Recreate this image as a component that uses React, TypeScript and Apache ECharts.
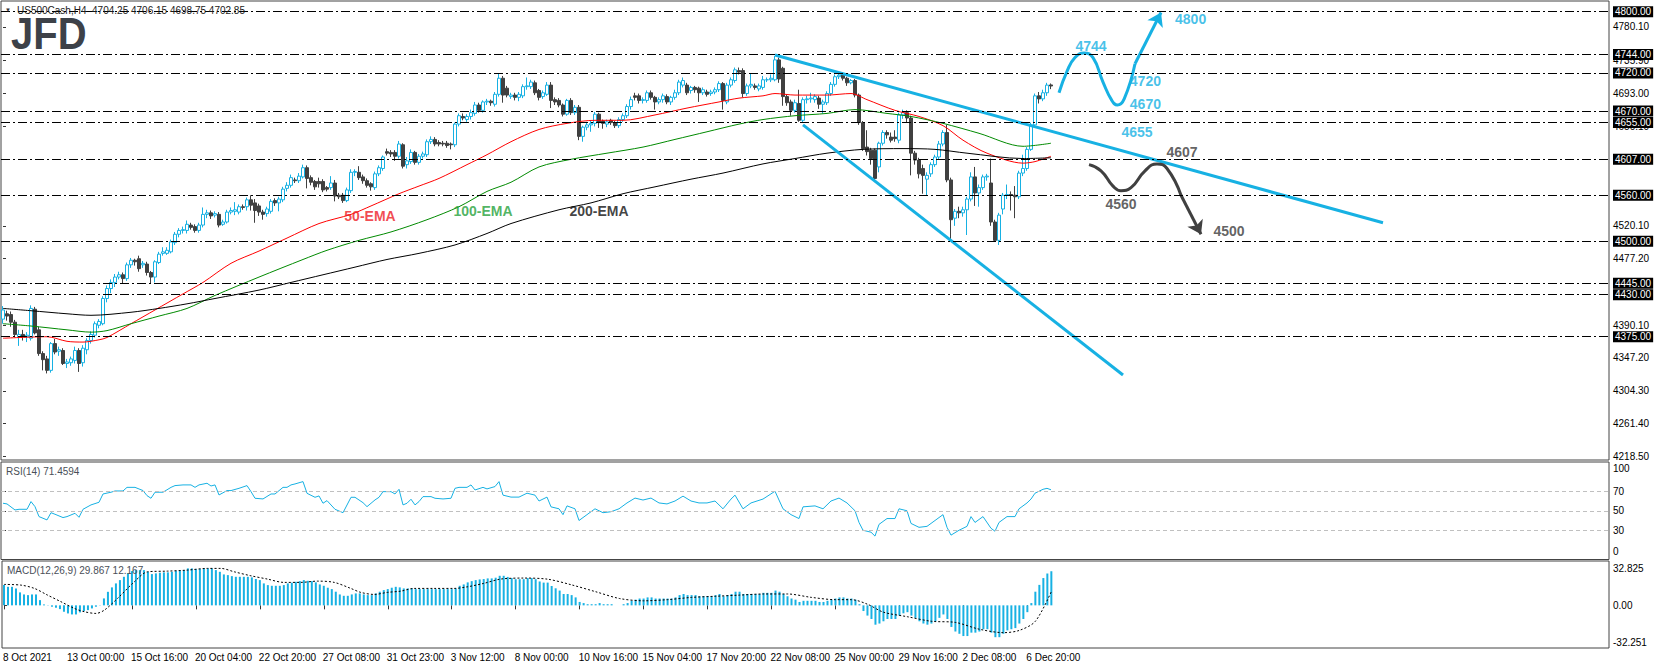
import React, { useEffect, useRef } from "react";
import * as echarts from "echarts";

// ---------- data ----------
const SLOTS = 402; // bar slots across the chart (incl. empty future space)
const TICK_STEP = 16;
const xTickLabels = [
  "8 Oct 2021", "13 Oct 00:00", "15 Oct 16:00", "20 Oct 04:00", "22 Oct 20:00",
  "27 Oct 08:00", "31 Oct 23:00", "3 Nov 12:00", "8 Nov 00:00", "10 Nov 16:00",
  "15 Nov 04:00", "17 Nov 20:00", "22 Nov 08:00", "25 Nov 00:00", "29 Nov 16:00",
  "2 Dec 08:00", "6 Dec 20:00",
];

// [open, close, low, high]
const candles: number[][] = [
  [4398,4410,4392,4415],[4405,4402,4396,4409],[4404,4394,4388,4408],[4394,4378,4376,4397],[4375,4378,4363,4384],
  [4378,4375,4370,4384],[4375,4377,4368,4381],[4373,4412,4370,4416],[4411,4380,4378,4414],[4384,4353,4350,4388],
  [4353,4345,4331,4356],[4346,4331,4327,4350],[4331,4366,4328,4368],[4366,4355,4352,4372],[4356,4358,4350,4362],
  [4357,4340,4338,4360],[4340,4342,4334,4346],[4341,4346,4337,4349],[4344,4357,4340,4362],[4357,4340,4329,4360],
  [4341,4360,4336,4364],[4358,4370,4352,4373],[4370,4378,4366,4382],[4377,4392,4374,4395],[4390,4395,4386,4398],
  [4392,4425,4390,4428],[4425,4438,4420,4442],[4438,4446,4432,4450],[4446,4453,4440,4457],[4453,4456,4450,4460],
  [4456,4451,4445,4459],[4451,4469,4448,4472],[4469,4475,4465,4478],[4475,4473,4468,4477],[4477,4464,4460,4481],
  [4469,4471,4465,4474],[4470,4459,4455,4473],[4459,4453,4445,4461],[4453,4473,4446,4475],[4472,4483,4470,4486],
  [4484,4486,4481,4492],[4484,4488,4482,4492],[4486,4499,4484,4502],[4498,4509,4495,4512],[4509,4514,4505,4517],
  [4514,4515,4510,4519],[4514,4522,4510,4527],[4521,4518,4515,4524],[4519,4514,4511,4522],[4514,4521,4511,4524],
  [4521,4535,4518,4544],[4535,4537,4530,4541],[4537,4533,4529,4540],[4534,4536,4531,4539],[4535,4521,4518,4538],
  [4522,4525,4520,4528],[4525,4538,4523,4541],[4538,4540,4535,4544],[4539,4541,4534,4551],[4538,4545,4535,4548],
  [4545,4544,4541,4548],[4545,4554,4540,4557],[4554,4547,4540,4560],[4550,4540,4524,4555],[4546,4538,4533,4549],
  [4538,4535,4528,4541],[4536,4542,4532,4545],[4539,4552,4536,4555],[4553,4550,4546,4556],[4550,4555,4539,4558],
  [4554,4568,4551,4571],[4569,4573,4565,4577],[4573,4583,4570,4587],[4580,4579,4576,4583],[4579,4585,4576,4589],
  [4584,4596,4582,4600],[4596,4582,4569,4599],[4583,4577,4573,4586],[4578,4571,4567,4580],[4578,4575,4570,4583],
  [4578,4567,4564,4581],[4570,4568,4565,4572],[4570,4576,4567,4585],[4576,4559,4552,4580],[4560,4558,4555,4563],
  [4560,4553,4550,4563],[4553,4567,4551,4570],[4566,4590,4563,4594],[4590,4591,4585,4594],[4590,4583,4580,4598],
  [4584,4579,4575,4587],[4579,4573,4570,4582],[4575,4571,4566,4577],[4570,4588,4567,4591],[4588,4596,4585,4599],
  [4595,4610,4592,4612],[4617,4615,4612,4621],[4616,4614,4610,4619],[4616,4611,4605,4619],[4611,4627,4608,4631],
  [4626,4598,4595,4628],[4600,4605,4595,4610],[4604,4616,4601,4620],[4616,4603,4600,4618],[4603,4611,4600,4614],
  [4611,4614,4608,4617],[4613,4630,4610,4633],[4630,4633,4627,4637],[4633,4627,4624,4636],[4629,4627,4624,4632],
  [4628,4627,4624,4631],[4628,4625,4622,4631],[4627,4626,4620,4629],[4626,4653,4623,4655],[4653,4664,4650,4667],
  [4663,4661,4658,4667],[4659,4663,4656,4666],[4663,4668,4659,4672],[4667,4678,4664,4682],[4678,4671,4668,4681],
  [4671,4682,4668,4684],[4682,4683,4678,4686],[4683,4681,4677,4685],[4679,4692,4676,4695],[4692,4713,4689,4719],
  [4713,4691,4681,4716],[4700,4691,4688,4703],[4689,4691,4686,4694],[4691,4688,4684,4694],[4688,4692,4683,4695],
  [4690,4702,4687,4705],[4702,4703,4698,4714],[4702,4708,4699,4711],[4707,4694,4691,4710],[4697,4688,4684,4699],
  [4689,4694,4686,4697],[4692,4704,4690,4708],[4704,4684,4674,4708],[4685,4682,4678,4688],[4684,4678,4675,4687],
  [4678,4666,4663,4680],[4666,4684,4664,4686],[4684,4668,4665,4687],[4668,4675,4665,4678],[4675,4637,4632,4678],
  [4637,4649,4630,4651],[4649,4652,4645,4656],[4652,4654,4643,4657],[4654,4666,4650,4669],[4666,4655,4648,4668],
  [4657,4654,4647,4659],[4653,4656,4649,4659],[4658,4655,4652,4660],[4655,4651,4648,4657],[4651,4659,4648,4662],
  [4659,4664,4656,4667],[4664,4676,4661,4679],[4676,4685,4672,4689],[4690,4688,4684,4694],[4690,4684,4680,4693],
  [4684,4685,4680,4688],[4684,4694,4681,4697],[4694,4688,4685,4697],[4688,4682,4672,4690],[4682,4685,4679,4688],
  [4685,4690,4681,4693],[4689,4682,4679,4692],[4682,4688,4678,4690],[4688,4694,4685,4698],[4694,4708,4691,4711],
  [4704,4710,4701,4714],[4704,4694,4691,4707],[4697,4701,4693,4703],[4701,4698,4694,4703],[4700,4694,4682,4702],
  [4694,4698,4691,4701],[4695,4692,4689,4698],[4693,4695,4690,4698],[4695,4698,4692,4701],[4698,4706,4695,4709],
  [4706,4684,4672,4708],[4682,4704,4679,4707],[4704,4711,4701,4714],[4710,4724,4707,4727],[4723,4721,4718,4727],
  [4723,4693,4688,4726],[4693,4703,4690,4706],[4703,4705,4700,4719],[4703,4701,4698,4706],[4699,4703,4696,4706],
  [4701,4711,4698,4716],[4711,4711,4708,4714],[4711,4713,4708,4718],[4711,4737,4709,4742],[4737,4712,4707,4740],
  [4726,4689,4677,4728],[4689,4681,4677,4692],[4682,4671,4664,4685],[4671,4681,4668,4685],[4680,4658,4656,4698],
  [4658,4685,4655,4688],[4685,4686,4680,4690],[4686,4687,4681,4694],[4685,4689,4681,4692],[4687,4679,4673,4690],
  [4679,4682,4667,4685],[4681,4693,4678,4696],[4693,4705,4690,4708],[4705,4715,4702,4718],[4715,4717,4712,4720],
  [4717,4713,4710,4721],[4713,4707,4703,4715],[4707,4710,4705,4712],[4710,4691,4688,4712],[4691,4655,4652,4693],
  [4655,4621,4618,4657],[4623,4617,4612,4645],[4619,4608,4600,4622],[4619,4582,4579,4621],[4597,4628,4590,4630],
  [4628,4642,4625,4645],[4642,4639,4634,4645],[4636,4632,4629,4642],[4636,4634,4630,4645],[4632,4665,4628,4668],
  [4665,4668,4660,4672],[4668,4661,4655,4671],[4661,4615,4586,4664],[4615,4606,4600,4618],[4606,4588,4582,4609],
  [4595,4586,4562,4600],[4581,4586,4560,4590],[4588,4600,4584,4603],[4600,4610,4597,4613],[4610,4627,4607,4631],
  [4627,4642,4624,4645],[4642,4580,4577,4652],[4580,4528,4501,4583],[4530,4539,4520,4542],[4539,4537,4530,4545],
  [4537,4541,4532,4545],[4541,4555,4508,4558],[4555,4584,4552,4590],[4584,4563,4546,4597],[4563,4570,4545,4574],
  [4570,4584,4567,4587],[4584,4585,4579,4588],[4576,4525,4520,4608],[4525,4501,4499,4528],[4501,4534,4495,4537],
  [4542,4560,4535,4563],[4560,4561,4555,4574],[4561,4560,4540,4565],[4560,4558,4530,4572],[4558,4589,4555,4592],
  [4589,4595,4585,4613],[4595,4620,4592,4623],[4620,4652,4618,4655],[4652,4690,4650,4693],[4690,4686,4680,4695],
  [4686,4694,4683,4698],[4694,4704,4690,4707],[4704.25,4702.85,4698.75,4706.15],
];

// moving averages, read as [bar, value]
const ema50 = [
  [0,4373],[11,4375],[16,4369],[20,4368],[24,4371],[26,4374],[32,4392],[38,4410],[45,4431],[50,4446],
  [57,4471],[64,4487],[71,4504],[79,4523],[87,4535],[92,4546],[99,4562],[104,4572],[109,4582],[116,4600],
  [121,4613],[127,4630],[134,4646],[141,4654],[148,4658],[155,4658],[163,4665],[171,4674],[179,4682],[184,4687],
  [190,4690],[193,4693],[198,4691],[206,4691],[212,4693],[216,4685],[223,4671],[229,4663],[235,4651],[240,4632],
  [246,4615],[255,4602],[258,4604],[262,4611],
];
const ema100 = [
  [0,4392],[7,4389],[16,4384],[22,4381],[26,4383],[32,4392],[39,4402],[46,4412],[53,4429],[64,4453],
  [75,4476],[81,4488],[89,4501],[97,4512],[106,4528],[114,4545],[121,4565],[127,4577],[134,4597],[142,4607],
  [151,4615],[160,4623],[168,4633],[176,4643],[184,4653],[190,4659],[198,4664],[206,4667],[213,4672],[221,4667],
  [227,4663],[235,4654],[244,4641],[255,4624],[262,4628],
];
const ema200 = [
  [0,4412],[7,4409],[16,4405],[22,4403],[32,4407],[39,4412],[46,4418],[53,4425],[64,4436],[72,4446],
  [80,4456],[88,4466],[96,4476],[104,4484],[113,4495],[121,4510],[127,4523],[139,4541],[147,4550],[155,4562],
  [163,4571],[172,4581],[180,4589],[190,4601],[198,4608],[206,4615],[215,4620],[225,4621],[233,4620],[241,4615],
  [255,4608],[262,4609],
];

const rsi = [
  [0,57.7],[1,57],[3,50.8],[4,51.5],[6,51.5],[7,59.4],[8,54.2],[9,44],[11,40.6],[12,48],[13,46.4],[15,43],
  [16,44],[18,47.4],[19,43.3],[20,51.5],[22,56],[24,58.7],[25,67.2],[27,69],[28,70.3],[30,70.3],[31,74],[33,74],
  [35,70.7],[36,65.5],[37,62.8],[38,69],[40,69],[42,74],[43,75.8],[45,76.5],[47,76.5],[48,74],[49,76.5],[51,78.2],
  [52,75.4],[53,76.5],[54,66.2],[56,70.7],[57,70.7],[59,73],[61,75.8],[62,69.6],[63,62.8],[65,62.1],[67,67.2],
  [68,67.2],[70,74],[71,74],[72,76.5],[73,77.5],[75,79.9],[76,67.9],[78,63.8],[79,65.2],[80,57.7],[81,60.4],
  [83,51.5],[85,48],[87,63.8],[88,63.8],[90,58.3],[91,54.2],[93,61.1],[94,63.8],[95,69.6],[97,69.6],[98,67.2],
  [99,72],[100,56],[101,57.7],[102,61.8],[103,56],[104,59.4],[105,64.5],[107,64.5],[108,62.8],[110,62.1],
  [112,62.8],[113,73],[114,74],[116,74],[117,76.5],[118,71.3],[120,74],[121,72.4],[123,74.8],[124,79.9],
  [125,66],[127,64],[129,64],[131,68],[133,66],[134,60],[136,64],[137,54],[139,52],[140,46],[141,55],[143,52],
  [144,40],[146,46],[148,52],[150,48],[152,49],[154,52],[156,58],[158,63],[160,61],[162,63],[164,58],[166,57],
  [168,60],[170,65],[172,60],[174,58],[176,58],[178,60],[180,52],[182,62],[183,66],[185,52],[187,58],[190,62],
  [193,70],[195,52],[197,46],[199,42],[200,54],[203,55],[205,52],[207,60],[209,63],[211,58],[213,50],[214,38],
  [215,30],[217,28],[218,24],[219,36],[221,42],[223,42],[224,52],[226,50],[227,37],[229,33],[231,34],[233,40],
  [235,46],[236,33],[237,25],[239,30],[241,34],[242,44],[243,38],[245,44],[247,32],[248,29],[249,38],[251,44],
  [253,44],[254,52],[255,55],[256,58],[257,62],[258,68],[259,70],[260,72],[261,73],[262,71.5],
];
const rsiLevels = [70, 50, 30];

const macdHist = [
  17.8,16.3,16.3,14.9,11.4,9.6,9.0,9.6,9.6,4.6,
  0.8,0.2,-1.2,-2.1,-3.3,-5.6,-7.1,-8,-8,-6.2,
  -5,-4.2,-2.7,-1.2,0.2,6.1,11.9,15.8,19.3,22.2,
  25.1,28.1,30.1,31,31,31,29.5,27.5,28.1,28.7,
  29,29,29.5,30.4,30.4,31,32.5,32.5,31.9,31.9,
  32.5,32.5,32.5,31,29.5,27.2,26.6,25.7,25.1,25.1,
  25.1,25.1,24.6,23.1,22.2,19.3,17.8,17.2,17.2,17.2,
  17.8,19.3,19.9,20.7,21.3,22.2,21.6,21.3,20.2,18.4,
  17.2,15.5,14.3,12,9.6,8.4,8.4,9.6,10.5,10.5,
  9.6,9,9,10.5,12,13.4,14.3,15.5,16.3,15.8,
  14.9,14.9,14.9,14.3,14.3,14.3,14.3,14.3,14.3,14.3,
  14.3,14.3,14.3,14.9,17.2,18.4,20.2,21.3,22.2,22.8,
  23.1,23.7,23.7,24.3,26,
  26,25,24,23,23,23,24,24,23,21,20,20,
  17,15,13,10,10,9,7,3,2,1,1,1,2,1,
  1,1,0,0,1,2,4,5,6,6,7,7,6,6,6,
  6,6,7,9,10,9,9,9,8,8,8,8,9,10,8,
  9,10,12,12,10,10,10,10,10,11,11,11,13,12,10,
  8,6,5,3,4,4,4,4,3,3,4,5,6,7,7,
  6,6,5,1,-5,-9,-12,-17,-16,-14,-12,-12,-12,-9,-7,
  -6,-9,-11,-14,-16,-17,-16,-14,-11,-8,-12,-19,-23,-25,-27,
  -27,-24,-24,-23,-21,-21,-24,-28,-28,-25,-22,-21,-20,-16,-12,
  -6,2,12,18,24,28,30,
];
const macdSignal = [
  [0,18.4],[4.25,17.8],[7.6,14.9],[10.9,9],[14.25,3.2],[17.6,-2.7],[20.1,-5.6],[23,-7.1],[25.1,-4.2],[28.4,6.1],
  [32.6,20.7],[35.9,29.5],[40.9,30.1],[45.9,31],[50.9,32.5],[54.25,32.5],[57.6,29.5],[61.75,26],[65.9,23.1],
  [70,20.2],[74.25,20.2],[78.4,21.3],[82.6,20.2],[86.75,14.9],[89.25,11.4],[92.6,9.6],[95.9,11.4],[99.25,12.5],
  [102.6,14.9],[107.6,14.9],[112.6,14.9],[115.9,16.3],[120,19.3],[124.25,23.1],[130,24],[136,23],[142,18],
  [148,12],[154,6],[160,4],[166,5],[172,7],[178,8],[184,9],[190,10],[196,10],[202,7],[208,5],[212,5],[216,1],
  [220,-6],[226,-10],[232,-14],[238,-15],[244,-21],[250,-24],[254,-22],[258,-14],[262,12.167],
];

// horizontal levels drawn on the price chart
const priceLevels = [4800, 4744, 4720, 4670, 4655, 4607, 4560, 4500, 4445, 4430, 4375];
const lastPrice = 4702.85;
const priceTicks = [4780.1, 4735.9, 4693.0, 4650.1, 4520.1, 4477.2, 4390.1, 4347.2, 4304.3, 4261.4, 4218.5];
const rsiTicks = [100, 70, 50, 30, 0];
const macdTicks = [32.825, 0, -32.251];

// trendlines and scenario paths ([bar, price])
const upperTrend = [[193, 4743.4], [345, 4524]];
const lowerTrend = [[200, 4652], [280, 4325]];
const bullPath = [[264,4694],[266,4722],[268,4740],[270.25,4746],[272.5,4740],[275,4708],[277.2,4684],[278.6,4678],[280.3,4686],[283,4732]];
const bullArrow = [[283,4732],[289.5,4799]];
const bearPath = [[271.5,4600],[274.5,4592],[277.5,4572],[279.5,4566],[282,4570],[285.5,4592],[288.5,4601],[291,4595],[294.5,4560]];
const bearArrow = [[294.5,4560],[299.5,4509]];
const bullLabels = [["4744",272,4755],["4720",285.6,4709],["4670",285.6,4679],["4655",283.5,4643],["4800",296.9,4790.5]];
const bearLabels = [["4607",294.75,4616.5],["4560",279.5,4549],["4500",306.5,4513]];
const emaLabels = [["50-EMA",91.75,4533,"#ee1c25"],["100-EMA",120,4539,"#25a13a"],["200-EMA",149,4539,"#111111"]];

// ---------- chart ----------
const FONT = '"Liberation Sans", Arial, sans-serif';
const CYAN = "#17b1e3";
const DARK = "#404040";

function buildOption() {
  const cats = Array.from({ length: SLOTS }, (_, i) => String(i));
  const showTick = (i: number) => i % TICK_STEP === 0 && i / TICK_STEP < xTickLabels.length;
  const catAxis = (g: number, labels: boolean) => ({
    type: "category", gridIndex: g, data: cats, boundaryGap: true,
    axisLine: { show: false },
    axisTick: labels ? { show: true, interval: (i: number) => showTick(i), alignWithLabel: true, length: 4, lineStyle: { color: "#333" } } : { show: false },
    axisLabel: labels ? {
      show: true, interval: (i: number) => showTick(i), align: "left", margin: 4,
      formatter: (_v: string, i: number) => xTickLabels[i / TICK_STEP] || "",
      fontSize: 10, color: "#000", fontFamily: FONT, padding: [0, 0, 0, -1],
    } : { show: false },
    splitLine: { show: false },
  });
  const valX = (g: number) => ({ type: "value", gridIndex: g, min: -0.5, max: SLOTS - 0.5, show: false });
  const axisLabelBase = { fontSize: 10, color: "#000", fontFamily: FONT, margin: 4 };

  const labelSeries = (items: any[], color: string | null, name: string) => ({
    type: "scatter", name, xAxisIndex: 3, yAxisIndex: 0, symbolSize: 0, silent: true, z: 10,
    data: items.map((d) => ({
      value: [d[1], d[2]], name: d[0],
      label: { show: true, position: "inside", formatter: d[0], color: color || d[3], fontSize: 14, fontWeight: "bold", fontFamily: FONT },
    })),
  });

  return {
    animation: false,
    textStyle: { fontFamily: FONT },
    grid: [
      { left: 1, top: 1, width: 1608, height: 459, show: true, borderColor: "#444", borderWidth: 1 },
      { left: 1, top: 462, width: 1608, height: 97.5, show: true, borderColor: "#444", borderWidth: 1 },
      { left: 1, top: 561, width: 1608, height: 87, show: true, borderColor: "#444", borderWidth: 1 },
    ],
    xAxis: [catAxis(0, false), catAxis(1, false), catAxis(2, true), valX(0), valX(1), valX(2)],
    yAxis: [
      {
        type: "value", gridIndex: 0, position: "right", min: 4213.8, max: 4814, scale: true,
        splitLine: { show: false }, axisLine: { show: false },
        axisTick: { show: true, length: 3, customValues: priceTicks, lineStyle: { color: "#333" } },
        axisLabel: { ...axisLabelBase, customValues: priceTicks, formatter: (v: number) => v.toFixed(2) },
      },
      {
        type: "value", gridIndex: 1, position: "right", min: 0, max: 100,
        splitLine: { show: false }, axisLine: { show: false },
        axisTick: { show: true, length: 3, customValues: [70, 50, 30], lineStyle: { color: "#333" } },
        axisLabel: {
          ...axisLabelBase, customValues: rsiTicks,
          formatter: (v: number) => (v === 100 ? "{a|100}" : v === 0 ? "{b|0}" : String(v)),
          rich: {
            a: { padding: [12, 0, 0, 0], fontSize: 10, color: "#000", fontFamily: FONT },
            b: { padding: [0, 0, 16, 0], fontSize: 10, color: "#000", fontFamily: FONT },
          },
        },
      },
      {
        type: "value", gridIndex: 2, position: "right", min: -37.5, max: 39,
        splitLine: { show: false }, axisLine: { show: false },
        axisTick: { show: true, length: 3, customValues: [0], lineStyle: { color: "#333" } },
        axisLabel: { ...axisLabelBase, customValues: macdTicks, formatter: (v: number) => (v === 0 ? "0.00" : String(v)) },
      },
    ],
    graphic: [
      { type: "rect", shape: { x: 9, y: 15, width: 80, height: 38 }, style: { fill: "#fff" }, z: 100 },
      { type: "text", x: 11, y: 34, scaleY: 1.12, z: 101, style: { text: "JFD", font: `bold 40px ${FONT}`, fill: "#3d4148", verticalAlign: "middle" } },
      { type: "text", x: 5, y: 10, z: 101, style: { text: "▼", font: `6px ${FONT}`, fill: "#333", verticalAlign: "middle" } },
      { type: "text", x: 17, y: 10, z: 101, style: { text: "US500Cash,H4  4704.25 4706.15 4698.75 4702.85", font: `10px ${FONT}`, fill: "#1a1a1a", verticalAlign: "middle" } },
      { type: "text", x: 6, y: 471, z: 101, style: { text: "RSI(14) 71.4594", font: `10px ${FONT}`, fill: "#4a4f58", verticalAlign: "middle" } },
      { type: "text", x: 7, y: 570, z: 101, style: { text: "MACD(12,26,9) 29.867 12.167", font: `10px ${FONT}`, fill: "#4a4f58", verticalAlign: "middle" } },
    ],
    series: [
      {
        type: "candlestick", name: "US500", xAxisIndex: 0, yAxisIndex: 0, data: candles, barWidth: 3,
        itemStyle: { color: "#ffffff", color0: DARK, borderColor: CYAN, borderColor0: DARK, borderWidth: 1 },
        markLine: {
          silent: true, symbol: ["none", "none"], animation: false,
          lineStyle: { color: "#000", width: 1, type: [9, 3, 2, 3] },
          label: {
            show: true, position: "end", distance: 4, formatter: (p: any) => Number(p.value).toFixed(2),
            backgroundColor: "#000", color: "#fff", fontSize: 10, fontFamily: FONT, padding: [1, 2, 0, 2],
          },
          data: [
            ...priceLevels.map((v) => ({ yAxis: v })),
            { yAxis: lastPrice, lineStyle: { opacity: 0 }, label: { backgroundColor: "#5a5a5a" } },
          ],
        },
      },
      { type: "line", name: "EMA50", xAxisIndex: 3, yAxisIndex: 0, data: ema50, symbol: "none", smooth: 0.3, lineStyle: { color: "#ff0000", width: 1 } },
      { type: "line", name: "EMA100", xAxisIndex: 3, yAxisIndex: 0, data: ema100, symbol: "none", smooth: 0.3, lineStyle: { color: "#008a00", width: 1 } },
      { type: "line", name: "EMA200", xAxisIndex: 3, yAxisIndex: 0, data: ema200, symbol: "none", smooth: 0.3, lineStyle: { color: "#000", width: 1 } },
      { type: "line", name: "upper", xAxisIndex: 3, yAxisIndex: 0, data: upperTrend, symbol: "none", lineStyle: { color: CYAN, width: 3 } },
      { type: "line", name: "lower", xAxisIndex: 3, yAxisIndex: 0, data: lowerTrend, symbol: "none", lineStyle: { color: CYAN, width: 3 } },
      { type: "line", name: "bull", xAxisIndex: 3, yAxisIndex: 0, data: bullPath, symbol: "none", smooth: 0.5, lineStyle: { color: CYAN, width: 3 } },
      { type: "line", name: "bear", xAxisIndex: 3, yAxisIndex: 0, data: bearPath, symbol: "none", smooth: 0.5, lineStyle: { color: DARK, width: 3 } },
      {
        type: "lines", name: "arrows", coordinateSystem: "cartesian2d", xAxisIndex: 3, yAxisIndex: 0,
        symbol: ["none", "arrow"], symbolSize: 13, silent: true,
        lineStyle: { opacity: 1, width: 3 },
        data: [
          { coords: bullArrow, lineStyle: { color: CYAN, width: 3, opacity: 1 } },
          { coords: bearArrow, lineStyle: { color: DARK, width: 3, opacity: 1 } },
        ],
      },
      labelSeries(bullLabels, CYAN, "bullLabels"),
      labelSeries(bearLabels, "#3a3a3a", "bearLabels"),
      labelSeries(emaLabels, null, "emaLabels"),
      {
        type: "line", name: "RSI", xAxisIndex: 4, yAxisIndex: 1, data: rsi, symbol: "none", lineStyle: { color: CYAN, width: 1 },
        markLine: {
          silent: true, symbol: ["none", "none"], label: { show: false },
          lineStyle: { color: "#c0c0c0", width: 1, type: [4, 3] },
          data: rsiLevels.map((v) => ({ yAxis: v })),
        },
      },
      { type: "bar", name: "MACD", xAxisIndex: 2, yAxisIndex: 2, data: macdHist, barWidth: 2, itemStyle: { color: CYAN } },
      { type: "line", name: "Signal", xAxisIndex: 5, yAxisIndex: 2, data: macdSignal, symbol: "none", smooth: 0.3, lineStyle: { color: "#000", width: 1, type: [2, 2] } },
    ],
  };
}

export default function App() {
  const ref = useRef<HTMLDivElement>(null);
  useEffect(() => {
    if (!ref.current) return;
    const chart = echarts.init(ref.current, null, { renderer: "svg" });
    chart.setOption(buildOption() as any);
    return () => chart.dispose();
  }, []);
  return (
    <div
      ref={ref}
      style={{ position: "fixed", left: 0, top: 0, width: 1655, height: 669, background: "#fff" }}
    />
  );
}
